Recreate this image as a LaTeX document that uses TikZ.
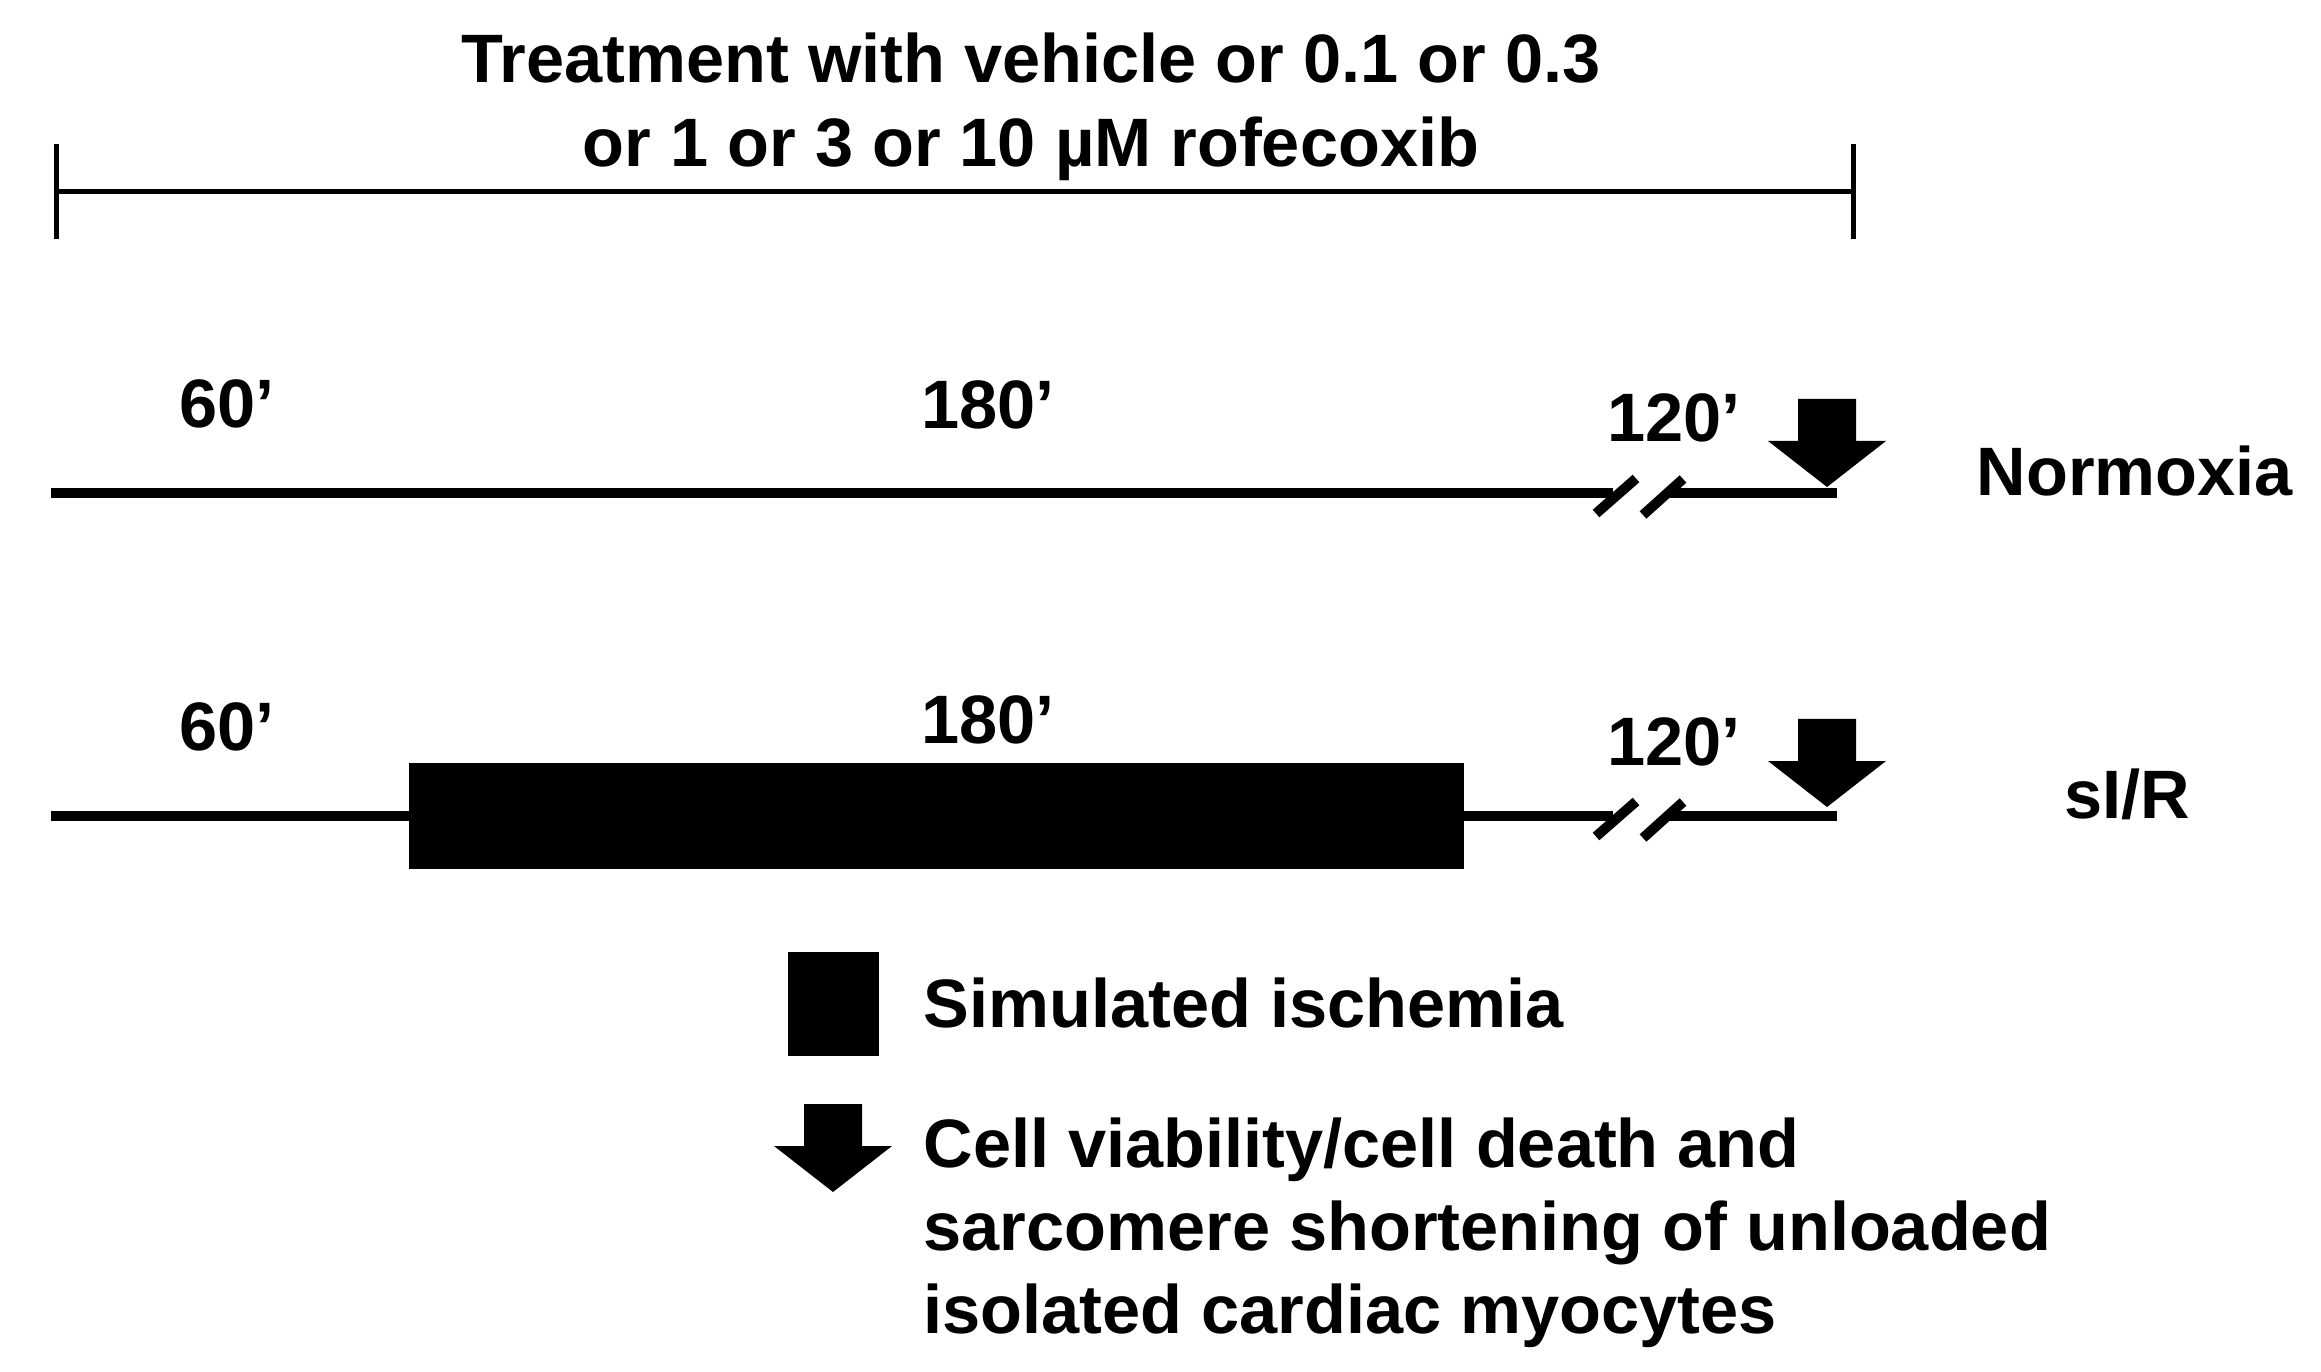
\documentclass[tikz,border=0pt]{standalone}
\usepackage{fontspec}
\setmainfont{Liberation Sans}
\tikzset{
  lbl/.style={font=\fontsize{19.5}{23}\selectfont\bfseries, inner sep=0pt},
  tline/.style={line width=0.1cm},
  bracket/.style={line width=0.05cm},
  readout/.pic={\fill (-0.29,0.88) -- (0.29,0.88) -- (0.29,0.46) -- (0.59,0.46) -- (0,0) -- (-0.59,0.46) -- (-0.29,0.46) -- cycle;},
  brk/.pic={\draw[tline] (-0.2,-0.175) -- (0.2,0.175); \draw[tline] (0.27,-0.19) -- (0.67,0.17);}
}
\begin{document}
\begin{tikzpicture}
\useasboundingbox (0,0) rectangle (23.21,-13.72);
% treatment bracket
\draw[bracket] (0.56,-1.92) -- (18.53,-1.92); % span
\draw[bracket] (0.56,-1.44) -- (0.56,-2.39); % left tick
\draw[bracket] (18.53,-1.44) -- (18.53,-2.39); % right tick
\node[lbl, anchor=base] (title1) at (10.31,-0.83) {Treatment with vehicle or 0.1 or 0.3};
\node[lbl, anchor=base] (title2) at (10.31,-1.67) {or 1 or 3 or 10 µM rofecoxib};
% normoxia
\draw[tline] (0.51,-4.93) -- (16.13,-4.93); % before break
\draw[tline] (16.70,-4.93) -- (18.37,-4.93); % after break
\pic at (16.16,-4.96) {brk};
\pic at (18.27,-4.87) {readout};
\node[lbl, anchor=base] (nA) at (2.27,-4.28) {60’};
\node[lbl, anchor=base] (nB) at (9.88,-4.29) {180’};
\node[lbl, anchor=base] (nC) at (16.74,-4.42) {120’};
\node[lbl, anchor=base] (norm) at (21.35,-4.96) {Normoxia};
% simulated ischemia/reperfusion
\draw[tline] (0.51,-8.16) -- (4.09,-8.16); % pre
\fill (4.09,-7.63) rectangle (14.64,-8.69); % ischemia
\draw[tline] (14.64,-8.16) -- (16.13,-8.16); % reperfusion
\draw[tline] (16.70,-8.16) -- (18.37,-8.16); % after break
\pic at (16.16,-8.19) {brk};
\pic at (18.27,-8.07) {readout};
\node[lbl, anchor=base] (sA) at (2.27,-7.51) {60’};
\node[lbl, anchor=base] (sB) at (9.88,-7.43) {180’};
\node[lbl, anchor=base] (sC) at (16.74,-7.65) {120’};
\node[lbl, anchor=base] (sir) at (21.27,-8.18) {sI/R};
% legend
\fill (7.88,-9.52) rectangle (8.79,-10.56); % ischemia key
\pic at (8.33,-11.92) {readout};
\node[lbl, anchor=base west] (keyA) at (9.23,-10.27) {Simulated ischemia};
\node[lbl, anchor=base west] (keyB1) at (9.23,-11.67) {Cell viability/cell death and};
\node[lbl, anchor=base west] (keyB2) at (9.23,-12.50) {sarcomere shortening of unloaded};
\node[lbl, anchor=base west] (keyB3) at (9.23,-13.33) {isolated cardiac myocytes};
\end{tikzpicture}
\end{document}
